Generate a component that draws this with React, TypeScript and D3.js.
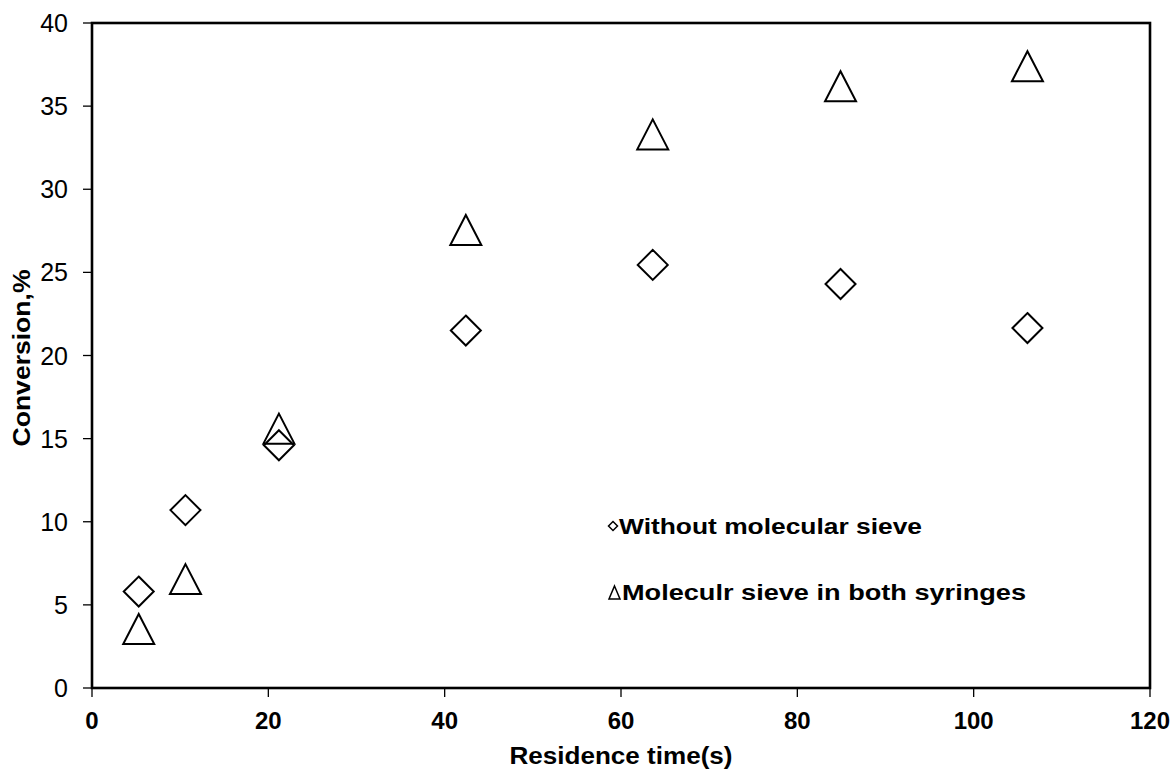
import React from "react";
import * as d3 from "d3";

const xTicks = [0, 20, 40, 60, 80, 100, 120];
const yTicks = [0, 5, 10, 15, 20, 25, 30, 35, 40];

const timesS = [5.3, 10.6, 21.2, 42.4, 63.6, 84.9, 106.1];
const withoutSieve = [5.8, 10.7, 14.6, 21.5, 25.45, 24.3, 21.65];
const sieveBoth = [3.55, 6.55, 15.6, 27.55, 33.3, 36.2, 37.4];

const legendLabels = ["Without molecular sieve", "Moleculr sieve in both syringes"];

const W = 1174;
const H = 769;
const margin = { left: 92, top: 23, right: 24, bottom: 81 };

export default function App() {
  const x = d3.scaleLinear().domain([0, 120]).range([margin.left, W - margin.right]);
  const y = d3.scaleLinear().domain([0, 40]).range([H - margin.bottom, margin.top]);
  const font = "'Liberation Sans', Arial, sans-serif";
  const x0 = x(0), x1 = x(120), y0 = y(0), y1 = y(40);

  const diamond = (cx: number, cy: number, r: number) =>
    `M${cx},${cy - r}L${cx + r},${cy}L${cx},${cy + r}L${cx - r},${cy}Z`;
  const triangle = (cx: number, cy: number, w: number, h: number) =>
    `M${cx},${cy - h / 2}L${cx + w / 2},${cy + h / 2}L${cx - w / 2},${cy + h / 2}Z`;

  return (
    <svg width={W} height={H} style={{ position: "absolute", left: 0, top: 0, background: "#fff" }}>
      <rect x={0} y={0} width={W} height={H} fill="#fff" />
      {/* frame */}
      <rect x={x0} y={y1} width={x1 - x0} height={y0 - y1} fill="none" stroke="#000" strokeWidth={2.6} />
      {/* y ticks */}
      {yTicks.map((t) => (
        <g key={"y" + t}>
          <line x1={x0 - 9} x2={x0} y1={y(t)} y2={y(t)} stroke="#000" strokeWidth={1.3} />
          <text x={x0 - 24} y={y(t)} dy="0.36em" textAnchor="end" fontFamily={font} fontSize={25} fill="#000">
            {t}
          </text>
        </g>
      ))}
      {/* x ticks */}
      {xTicks.map((t) => (
        <g key={"x" + t}>
          <line x1={x(t)} x2={x(t)} y1={y0} y2={y0 + 9} stroke="#000" strokeWidth={1.3} />
          <text x={x(t)} y={729} textAnchor="middle" fontFamily={font} fontSize={24} fontWeight="bold" fill="#000">
            {t}
          </text>
        </g>
      ))}
      {/* axis titles */}
      <text
        x={(x0 + x1) / 2}
        y={764}
        textAnchor="middle"
        fontFamily={font}
        fontSize={23}
        fontWeight="bold"
        fill="#000"
        textLength={223}
        lengthAdjust="spacingAndGlyphs"
      >
        Residence time(s)
      </text>
      <text
        transform={`translate(30,358) rotate(-90)`}
        textAnchor="middle"
        fontFamily={font}
        fontSize={24}
        fontWeight="bold"
        fill="#000"
        textLength={177}
        lengthAdjust="spacingAndGlyphs"
      >
        Conversion,%
      </text>
      {/* series */}
      {timesS.map((t, i) => (
        <path key={"d" + i} d={diamond(x(t), y(withoutSieve[i]), 15)} fill="none" stroke="#000" strokeWidth={2} />
      ))}
      {timesS.map((t, i) => (
        <path key={"t" + i} d={triangle(x(t), y(sieveBoth[i]), 31, 30)} fill="none" stroke="#000" strokeWidth={2} />
      ))}
      {/* legend */}
      <path d={diamond(613, 526, 4.5)} fill="none" stroke="#000" strokeWidth={1.5} />
      <text
        x={619}
        y={534}
        fontFamily={font}
        fontSize={22}
        fontWeight="bold"
        fill="#000"
        textLength={303}
        lengthAdjust="spacingAndGlyphs"
      >
        {legendLabels[0]}
      </text>
      <path d={triangle(614.5, 592.5, 11, 13)} fill="none" stroke="#000" strokeWidth={1.5} />
      <text
        x={622}
        y={600}
        fontFamily={font}
        fontSize={22}
        fontWeight="bold"
        fill="#000"
        textLength={404}
        lengthAdjust="spacingAndGlyphs"
      >
        {legendLabels[1]}
      </text>
    </svg>
  );
}
